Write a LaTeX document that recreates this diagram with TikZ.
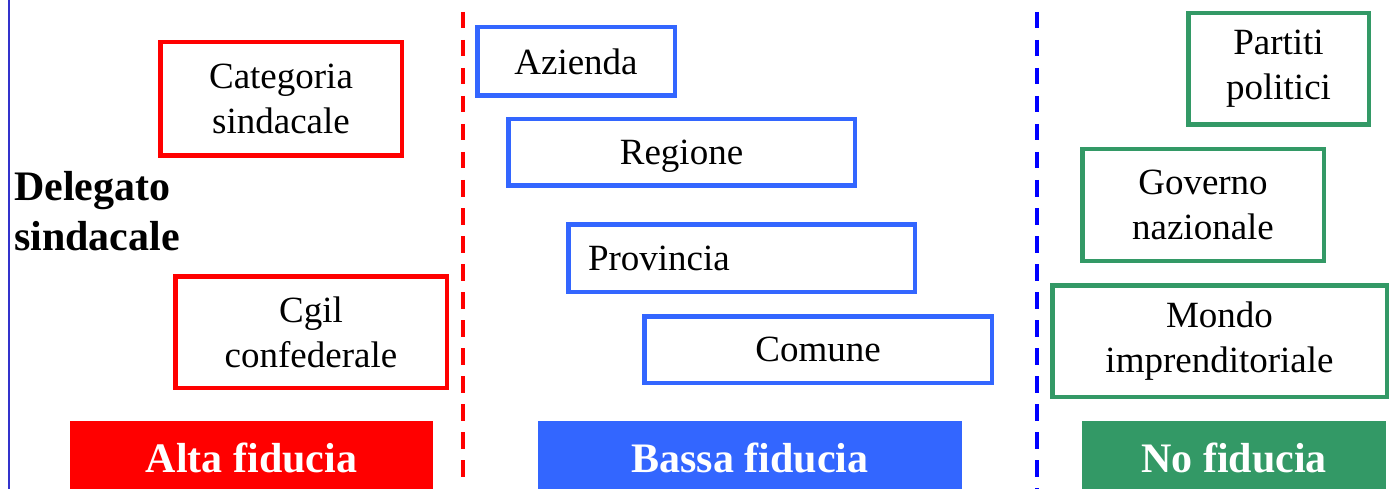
\documentclass[tikz,border=0pt]{standalone}
\usepackage{fontspec}
\setmainfont{Liberation Serif}
\definecolor{cred}{HTML}{FF0000}
\definecolor{cblue}{HTML}{3366FF}
\definecolor{cgreen}{HTML}{339966}
\definecolor{cside}{HTML}{3333CC}
\definecolor{cdash}{HTML}{0000FF}
\begin{document}
\begin{tikzpicture}[x=1pt,y=-1pt,
  boxtxt/.style={font=\fontsize{37}{45}\selectfont, align=center},
  tbox/.style={draw=#1, line width=4.5pt, rectangle, inner sep=0pt, boxtxt},
  onel/.style={text depth=0pt},
  bar/.style={fill=#1, draw=none, inner sep=0pt, text=white, font=\bfseries\fontsize{42}{50}\selectfont},
  divider/.style={line width=4pt, dash pattern=on 16.5pt off 11.5pt}
]
\useasboundingbox (0,0) rectangle (1396,489);
% left side line
\draw[cside, line width=2pt] (8.5,0) -- (8.5,489);
% dividers
\coordinate (d1a) at (463,12); \coordinate (d1b) at (463,480);
\coordinate (d2a) at (1037,12); \coordinate (d2b) at (1037,492);
\draw[divider, cred] (d1a) -- (d1b);
\draw[divider, cdash] (d2a) -- (d2b);
% title
\node[anchor=base west, inner sep=0pt, align=left, font=\bfseries\fontsize{42}{50}\selectfont] (del) at (14,250) {Delegato\\sindacale};
% red boxes
\node[tbox=cred, minimum width=241.5pt, minimum height=113.5pt] (cat) at (281,99) {Categoria\\sindacale};
\node[tbox=cred, minimum width=271.5pt, minimum height=111.5pt] (cgil) at (311,332) {Cgil\\confederale};
% blue boxes
\node[tbox=cblue, onel, minimum width=197.5pt, minimum height=68.5pt] (az) at (576,61.5) {Azienda};
\node[tbox=cblue, onel, minimum width=346.5pt, minimum height=66.5pt] (reg) at (681.5,152.5) {Regione};
\node[tbox=cblue, onel, minimum width=346.5pt, minimum height=67.5pt, text width=307pt, align=left] (prov) at (741.5,258) {Provincia};
\node[tbox=cblue, onel, minimum width=347.5pt, minimum height=66.5pt] (com) at (818,349.5) {Comune};
% green boxes
\node[tbox=cgreen, minimum width=180.5pt, minimum height=111.5pt] (part) at (1278.5,69) {Partiti\\politici};
\node[tbox=cgreen, minimum width=241.5pt, minimum height=111.5pt] (gov) at (1203,205) {Governo\\nazionale};
\node[tbox=cgreen, minimum width=334.5pt, minimum height=111.5pt] (mon) at (1219.5,341) {Mondo\\imprenditoriale};
% bars
\node[bar=cred, minimum width=363pt, minimum height=74pt] (alta) at (251.5,458) {Alta fiducia};
\node[bar=cblue, minimum width=424pt, minimum height=74pt] (bassa) at (750,458) {Bassa fiducia};
\node[bar=cgreen, minimum width=304pt, minimum height=74pt] (nof) at (1234,458) {No fiducia};
\end{tikzpicture}
\end{document}
